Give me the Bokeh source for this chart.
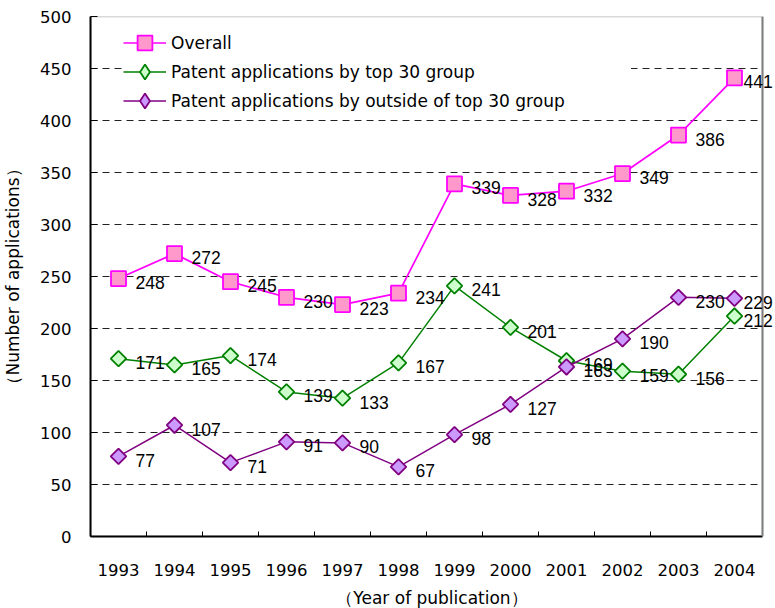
from bokeh.plotting import figure
from bokeh.models import (ColumnDataSource, Range1d, FixedTicker, Label, Legend, LegendItem,
                          BoxAnnotation, Span)
from bokeh.embed import file_html
from bokeh.resources import INLINE
import math

years = [1993, 1994, 1995, 1996, 1997, 1998, 1999, 2000, 2001, 2002, 2003, 2004]
overall = [248, 272, 245, 230, 223, 234, 339, 328, 332, 349, 386, 441]
top30 = [171, 165, 174, 139, 133, 167, 241, 201, 169, 159, 156, 212]
outside30 = [77, 107, 71, 91, 90, 67, 98, 127, 163, 190, 230, 229]
y_ticks = [0, 50, 100, 150, 200, 250, 300, 350, 400, 450, 500]
series_names = ["Overall", "Patent applications by top 30 group",
                "Patent applications by outside of top 30 group"]

NUM_FONT = "DejaVu Sans"
LAB_FONT = "Liberation Sans"

CAT_PX = 56           # pixels per year
EXTRA_PX = 11         # room right of the plot box for the last data labels
x_lo, x_hi = years[0] - 0.5, years[-1] + 0.5
FRAME_W = CAT_PX * len(years) + EXTRA_PX
FRAME_H = 520
LEFT, TOP, BOTTOM = 88, 16, 70

p = figure(width=LEFT + FRAME_W, height=TOP + FRAME_H + BOTTOM,
           output_backend="svg", toolbar_location=None,
           x_range=Range1d(x_lo, x_hi + EXTRA_PX / CAT_PX),
           y_range=Range1d(y_ticks[0], y_ticks[-1]),
           frame_width=FRAME_W, frame_height=FRAME_H,
           min_border_left=LEFT, min_border_right=0, min_border_top=TOP, min_border_bottom=BOTTOM)
p.background_fill_color = "white"
p.border_fill_color = "white"
p.outline_line_color = None

# x axis
xa = p.xaxis[0]
xa.bounds = (x_lo, x_hi)
xa.ticker = FixedTicker(ticks=years, minor_ticks=[y + 0.5 for y in years[:-1]])
xa.major_tick_line_color = None
xa.minor_tick_in = 5
xa.minor_tick_out = 0
xa.minor_tick_line_color = "black"
xa.axis_line_color = "black"
xa.axis_line_width = 2
xa.major_label_text_font = NUM_FONT
xa.major_label_text_font_size = "16.5px"
xa.major_label_text_color = "black"
xa.major_label_standoff = 21
xa.axis_label = "（Year of publication）"
xa.axis_label_text_font = NUM_FONT
xa.axis_label_text_font_size = "17px"
xa.axis_label_text_font_style = "normal"
xa.axis_label_text_color = "black"
xa.axis_label_standoff = 9

# y axis
ya = p.yaxis[0]
ya.ticker = FixedTicker(ticks=y_ticks, minor_ticks=[])
ya.major_tick_in = 7
ya.major_tick_out = 0
ya.major_tick_line_color = "black"
ya.minor_tick_line_color = None
ya.axis_line_color = "black"
ya.axis_line_width = 2
ya.major_label_text_font = NUM_FONT
ya.major_label_text_font_size = "16.5px"
ya.major_label_text_color = "black"
ya.major_label_standoff = 19
ya.axis_label = "（Number of applications）"
ya.axis_label_text_font = NUM_FONT
ya.axis_label_text_font_size = "17px"
ya.axis_label_text_font_style = "normal"
ya.axis_label_text_color = "black"
ya.axis_label_standoff = 14

p.xgrid.grid_line_color = None
p.ygrid.ticker = FixedTicker(ticks=y_ticks)
p.ygrid.grid_line_color = "#222222"
p.ygrid.grid_line_dash = "7 5"
p.ygrid.grid_line_width = 1
try:
    p.ygrid.cross_bounds = (x_lo, x_hi)
except Exception:
    pass

# plot-area border: black box, grey right edge
p.add_layout(BoxAnnotation(left=x_lo, right=x_hi, bottom=y_ticks[0], top=y_ticks[-1],
                           fill_alpha=0, line_color="black", line_width=1.5, level="underlay"))
p.add_layout(Span(location=x_hi, dimension="height", line_color="#808080", line_width=2))

styles = [
    dict(vals=overall, line="#FF00FF", fill="#FF99CC", size=15, angle=0, lw=1.7, key="square"),
    dict(vals=top30, line="#008000", fill="#CCFFCC", size=11, angle=math.pi / 4, lw=1.5, key="diamond"),
    dict(vals=outside30, line="#800080", fill="#CC99FF", size=11, angle=math.pi / 4, lw=1.5, key="diamond"),
]

# one single-entry legend per row (rows overlap slightly so the keys can be large)
LEG_X, LEG_TOP_Y, ROW_PITCH, ROW_H = 33, 475, 29, 37

for k, (name, st) in enumerate(zip(series_names, styles)):
    src = ColumnDataSource(dict(x=years, y=st["vals"]))
    ln = p.line("x", "y", source=src, line_color=st["line"], line_width=st["lw"])
    p.scatter("x", "y", source=src, marker="square", size=st["size"], angle=st["angle"],
              fill_color=st["fill"], line_color=st["line"], line_width=1.8)
    # hidden renderer used only for the legend key shape
    key = p.scatter("x", "y", source=src, marker=st["key"], size=15,
                    fill_color=st["fill"], line_color=st["line"], line_width=1.8, visible=False)
    # data labels to the right of each point; labels of the last year are pulled in to fit
    for i, (yr, v) in enumerate(zip(years, st["vals"])):
        p.add_layout(Label(x=yr, y=v, text=str(v), x_offset=9 if i == len(years) - 1 else 17,
                           y_offset=-4, text_align="left", text_baseline="middle",
                           text_font=LAB_FONT, text_font_size="17.5px", text_color="black"))
    leg = Legend(items=[LegendItem(label=name, renderers=[ln, key])],
                 location=(LEG_X, LEG_TOP_Y - k * ROW_PITCH), orientation="vertical",
                 glyph_width=43, glyph_height=ROW_H, label_height=ROW_H, label_width=460,
                 label_standoff=5, spacing=0, padding=0, margin=0,
                 label_text_font=NUM_FONT, label_text_font_size="17px", label_text_color="black",
                 background_fill_color="white", background_fill_alpha=1.0,
                 border_line_color=None)
    p.add_layout(leg)

open("out.html", "w").write(file_html(p, INLINE))
